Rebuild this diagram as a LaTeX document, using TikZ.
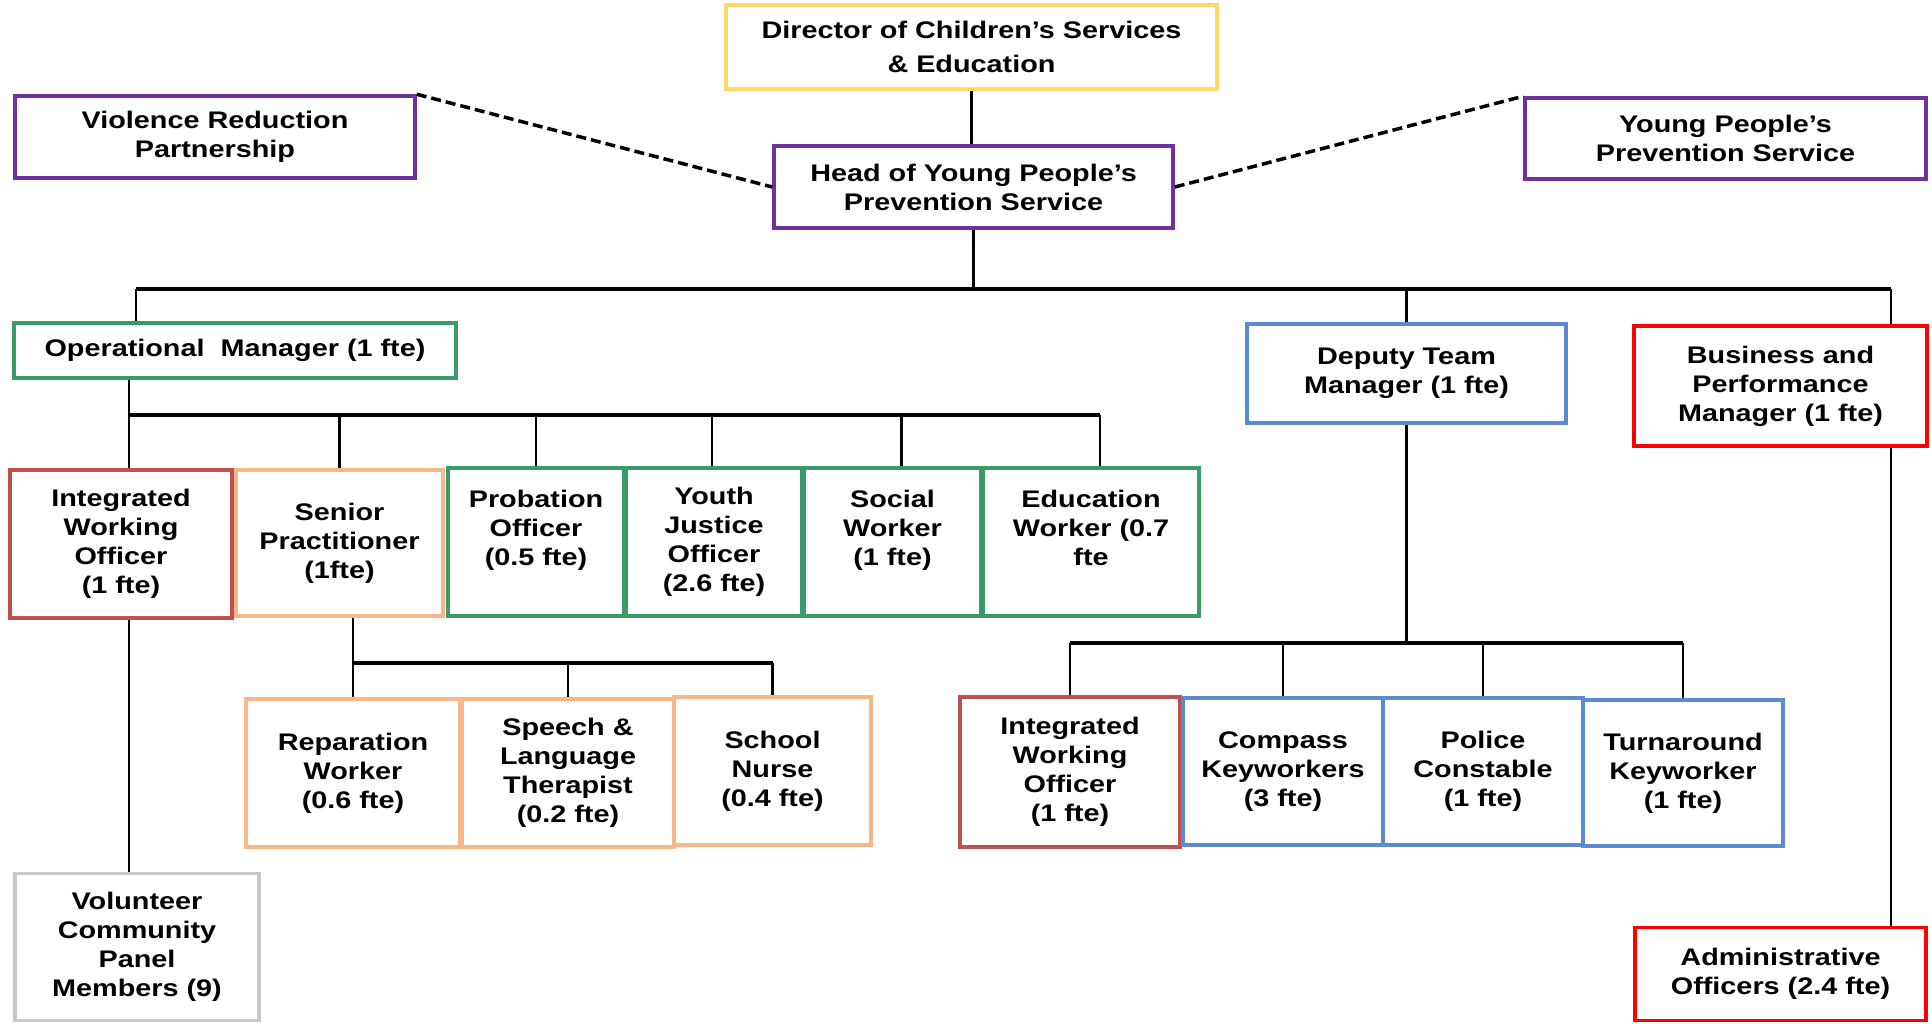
\documentclass[tikz,border=0pt]{standalone}
\usepackage{fontspec}
\newfontfamily\chartfont{Liberation Sans}[FakeStretch=1.2]
\definecolor{yel}{HTML}{FFD966}
\definecolor{pur}{HTML}{7030A0}
\definecolor{grn}{HTML}{3A9B69}
\definecolor{rbr}{HTML}{C0504D}
\definecolor{org}{HTML}{F6B888}
\definecolor{blu}{HTML}{5A8AD0}
\definecolor{brd}{HTML}{FF0000}
\definecolor{gry}{HTML}{C8C8C8}
\begin{document}
\begin{tikzpicture}[
        x=1pt, y=-1pt,
        every node/.style={rectangle, fill=white, align=center, inner sep=0pt, line width=3.5pt, font=\chartfont\bfseries\fontsize{24}{29}\selectfont},
        bx/.style n args={3}{draw=#1, minimum width=#2pt, minimum height=#3pt},
        link/.style={line width=2.5pt},
        bus/.style={line width=4.5pt},
        rel/.style={line width=3.5pt, dash pattern=on 10pt off 5pt}
    ]
        \useasboundingbox (0,0) rectangle (1932,1023);

        \node (dir) [bx={yel}{491}{84}] at (971.5,47) {Director of Children’s Services\\[5pt]\& Education};
        \node (vrp) [bx={pur}{400}{82}] at (215,137) {Violence Reduction\\Partnership};
        \node (head) [bx={pur}{399}{82}] at (973.5,187) {Head of Young People’s\\Prevention Service};
        \node (ypps) [bx={pur}{401}{81}] at (1725.5,138.5) {Young People’s\\Prevention Service};

        \node (ops) [bx={grn}{442}{55}] at (235,350.5) {Operational~~Manager (1 fte)};
        \node (dep) [bx={blu}{319}{99}] at (1406.5,373.5) {Deputy Team\\Manager (1 fte)};
        \node (bus) [bx={brd}{293}{120}] at (1780.5,386) {Business and\\Performance\\Manager (1 fte)};

        \node (iwoa) [bx={rbr}{222}{148}] at (121,544) {Integrated\\Working\\Officer\\(1 fte)};
        \node (sen) [bx={org}{207}{146}] at (339.5,543) {Senior\\Practitioner\\(1fte)};
        \node (prob) [bx={grn}{176}{148}] at (536,542) {Probation\\Officer\\(0.5 fte)\\\mbox{}};
        \node (yjo) [bx={grn}{176}{148}] at (714,542) {Youth\\Justice\\Officer\\(2.6 fte)};
        \node (soc) [bx={grn}{177}{148}] at (892.5,542) {Social\\Worker\\(1 fte)\\\mbox{}};
        \node (edu) [bx={grn}{216}{148}] at (1091,542) {Education\\Worker (0.7\\fte\\\mbox{}};

        \node (rep) [bx={org}{214}{148}] at (353,773) {Reparation\\Worker\\(0.6 fte)};
        \node (slt) [bx={org}{212}{148}] at (568,773) {Speech \&\\Language\\Therapist\\(0.2 fte)};
        \node (nur) [bx={org}{197}{148}] at (772.5,771) {School\\Nurse\\(0.4 fte)};

        \node (iwob) [bx={rbr}{220}{150}] at (1070,772) {Integrated\\Working\\Officer\\(1 fte)};
        \node (comp) [bx={blu}{200}{147}] at (1283,771.5) {Compass\\Keyworkers\\(3 fte)};
        \node (pol) [bx={blu}{200}{147}] at (1483,771.5) {Police\\Constable\\(1 fte)};
        \node (turn) [bx={blu}{200}{146}] at (1683,773) {Turnaround\\Keyworker\\(1 fte)};

        \node (vol) [bx={gry}{244}{147}] at (137,947) {Volunteer\\Community\\Panel\\Members (9)};
        \node (adm) [bx={brd}{291}{93}] at (1780.5,974) {Administrative\\Officers (2.4 fte)};

        \coordinate (mainL) at (136,289);
        \coordinate (mainR) at (1891,289);
        \coordinate (opsx) at (129,0);
        \coordinate (opsbus) at (0,415);
        \coordinate (senbus) at (0,663);
        \coordinate (depbus) at (0,643);

        \draw[rel] (vrp.north east) -- (head.west);
        \draw[rel] (head.east) -- (ypps.north west);
        \draw[link] (dir.south) -- (dir.south |- head.north);

        \draw[link] (head.south) -- (head.south |- mainL);
        \draw[bus] (mainL) -- (mainR);
        \draw[link] (mainL) -- (mainL |- ops.north);
        \draw[link] (dep.north |- mainL) -- (dep.north);
        \draw[link] (mainR) -- (mainR |- bus.north);
        \draw[link] (mainR |- bus.south) -- (mainR |- adm.north);

        \draw[link] (opsx |- ops.south) -- (opsx |- opsbus);
        \draw[bus] (opsx |- opsbus) -- ([xshift=9pt]edu.north |- opsbus);
        \foreach \n/\dx in {iwoa/8,sen/0,prob/0,yjo/-2,soc/9,edu/9}
            \draw[link] ([xshift=\dx pt]\n.north |- opsbus) -- ([xshift=\dx pt]\n.north);
        \draw[link] (opsx |- iwoa.south) -- (opsx |- vol.north);

        \draw[link] (sen.south -| rep) -- (rep |- senbus);
        \draw[bus] (rep |- senbus) -- (nur |- senbus);
        \foreach \n in {rep,slt,nur}
            \draw[link] (\n |- senbus) -- (\n.north);

        \draw[link] (dep.south) -- (dep |- depbus);
        \draw[bus] (iwob |- depbus) -- (turn |- depbus);
        \foreach \n in {iwob,comp,pol,turn}
            \draw[link] (\n |- depbus) -- (\n.north);
    \end{tikzpicture}
\end{document}
